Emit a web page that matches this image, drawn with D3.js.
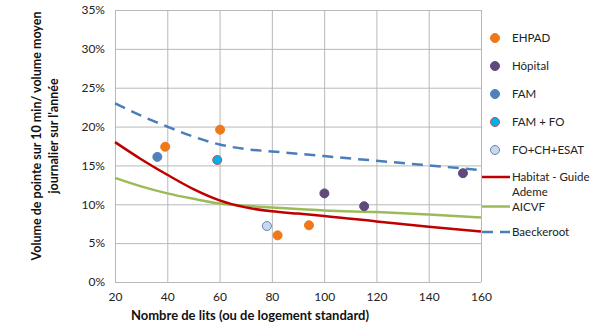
<!DOCTYPE html>
<html>
<head>
<meta charset="utf-8">
<script src="https://cdn.jsdelivr.net/npm/d3@7"></script>
<style>
body { margin: 0; background: #fff; }
text { font-family: Lato, "Open Sans", sans-serif; }
</style>
</head>
<body>
<div id="chart-area"></div>
<script>
const margin = { top: 10, left: 115, right: 124, bottom: 54 }
const width = 605 - margin.left - margin.right
const height = 336 - margin.top - margin.bottom

// axis ticks
const xTicks = [20, 40, 60, 80, 100, 120, 140, 160]
const yTicks = [0, 5, 10, 15, 20, 25, 30, 35]

// scatter series (lits, %)
const ehpad = [[39.2, 17.4], [60.2, 19.6], [82.2, 6.0], [94.2, 7.3]]
const hopital = [[100.1, 11.4], [115.3, 9.75], [153.1, 14.0]]
const fam = [[36.2, 16.1]]
const famFo = [[59.1, 15.7]]
const foChEsat = [[78.1, 7.2]]

// curves
const curveX = [20, 30, 40, 50, 60, 70, 80, 90, 100, 120, 140, 160]
const habitat = [18.0, 15.8, 13.8, 11.95, 10.5, 9.6, 9.1, 8.8, 8.5, 7.8, 7.1, 6.5]
const aicvf = [13.4, 12.3, 11.4, 10.7, 10.1, 9.8, 9.6, 9.4, 9.2, 9.0, 8.7, 8.3]
const baeckeroot = [23.0, 21.4, 20.0, 18.7, 17.7, 17.1, 16.8, 16.5, 16.2, 15.6, 15.0, 14.4]

const svg = d3.select('#chart-area')
	.append('svg')
	.attr('width', 605)
	.attr('height', 336)

const g = svg.append('g')
	.attr('transform', 'translate(' + margin.left + ',' + margin.top + ')')

const xScale = d3.scaleLinear().domain([20, 160]).range([0, width])
const yScale = d3.scaleLinear().domain([0, 35]).range([height, 0])

// grid
g.append('g').selectAll('line').data(yTicks).join('line')
	.attr('x1', 0).attr('x2', width)
	.attr('y1', d => yScale(d) + 0.5).attr('y2', d => yScale(d) + 0.5)
	.attr('stroke', '#b8b8b8')
g.append('g').selectAll('line').data(xTicks).join('line')
	.attr('y1', 0).attr('y2', height)
	.attr('x1', d => xScale(d) + 0.5).attr('x2', d => xScale(d) + 0.5)
	.attr('stroke', '#b8b8b8')

// axes
const xAxis = d3.axisBottom(xScale).tickValues(xTicks).tickSize(0).tickPadding(10)
g.append('g')
	.attr('transform', 'translate(0,' + height + ')')
	.call(xAxis)
	.call(a => a.select('.domain').remove())
	.selectAll('text').attr('font-size', 12).attr('fill', '#222')

const yAxis = d3.axisLeft(yScale).tickValues(yTicks).tickSize(0).tickPadding(10)
	.tickFormat(d => d + '%')
g.append('g')
	.call(yAxis)
	.call(a => a.select('.domain').remove())
	.selectAll('text').attr('font-size', 12).attr('fill', '#222')

// curves
const line = d3.line()
	.x((d, i) => xScale(curveX[i]))
	.y(d => yScale(d))
	.curve(d3.curveMonotoneX)

g.append('path').datum(aicvf).attr('d', line)
	.attr('fill', 'none').attr('stroke', '#9bbb59').attr('stroke-width', 2.5)
g.append('path').datum(habitat).attr('d', line)
	.attr('fill', 'none').attr('stroke', '#c00000').attr('stroke-width', 2.5)
g.append('path').datum(baeckeroot).attr('d', line)
	.attr('fill', 'none').attr('stroke', '#4a7ebb').attr('stroke-width', 2.5)
	.attr('stroke-dasharray', '11,7')

// points
const series = [
	{ name: 'EHPAD', data: ehpad, fill: '#f07818', stroke: '#f07818' },
	{ name: 'Hôpital', data: hopital, fill: '#604a7b', stroke: '#604a7b' },
	{ name: 'FAM', data: fam, fill: '#4f81bd', stroke: '#4f81bd' },
	{ name: 'FAM + FO', data: famFo, fill: '#00b0f0', stroke: '#c0504d' },
	{ name: 'FO+CH+ESAT', data: foChEsat, fill: '#c6d9f1', stroke: '#6c84a8' }
]

series.forEach(s => {
	g.append('g').selectAll('circle').data(s.data).join('circle')
		.attr('cx', d => xScale(d[0]))
		.attr('cy', d => yScale(d[1]))
		.attr('r', 4.5)
		.attr('fill', s.fill)
		.attr('stroke', s.stroke)
		.attr('stroke-width', 1)
})

// legend
const legend = svg.append('g')
series.forEach((s, i) => {
	const y = 38 + i * 28
	legend.append('circle').attr('cx', 495).attr('cy', y).attr('r', 4.5)
		.attr('fill', s.fill).attr('stroke', s.stroke)
	legend.append('text').attr('x', 512).attr('y', y).attr('dy', '0.35em')
		.attr('font-size', 11.5).attr('fill', '#222').text(s.name)
})

const lineLegend = [
	{ label: ['Habitat - Guide', 'Ademe'], y: 177, color: '#c00000', dash: null },
	{ label: ['AICVF'], y: 206.5, color: '#9bbb59', dash: null },
	{ label: ['Baeckeroot'], y: 232, color: '#4a7ebb', dash: '11,7' }
]
lineLegend.forEach(l => {
	legend.append('line').attr('x1', 482).attr('x2', 510)
		.attr('y1', l.y).attr('y2', l.y)
		.attr('stroke', l.color).attr('stroke-width', 2.5)
		.attr('stroke-dasharray', l.dash)
	l.label.forEach((t, j) => {
		legend.append('text').attr('x', 512).attr('y', l.y + j * 15).attr('dy', '0.35em')
			.attr('font-size', 11.5).attr('fill', '#222').text(t)
	})
})

// axis titles
svg.append('text')
	.attr('x', 250).attr('y', 320)
	.attr('text-anchor', 'middle')
	.attr('font-size', 13).attr('font-weight', 'bold').attr('fill', '#111')
	.text('Nombre de lits (ou de logement standard)')

const yTitle = svg.append('text')
	.attr('transform', 'translate(41,136) rotate(-90)')
	.attr('text-anchor', 'middle')
	.attr('font-size', 12.5).attr('font-weight', 'bold').attr('fill', '#111')
yTitle.append('tspan').attr('x', 0).attr('y', 0).text('Volume de pointe sur 10 min/ volume moyen')
yTitle.append('tspan').attr('x', 0).attr('y', 17).text("journalier sur l'année")
</script>
</body>
</html>
